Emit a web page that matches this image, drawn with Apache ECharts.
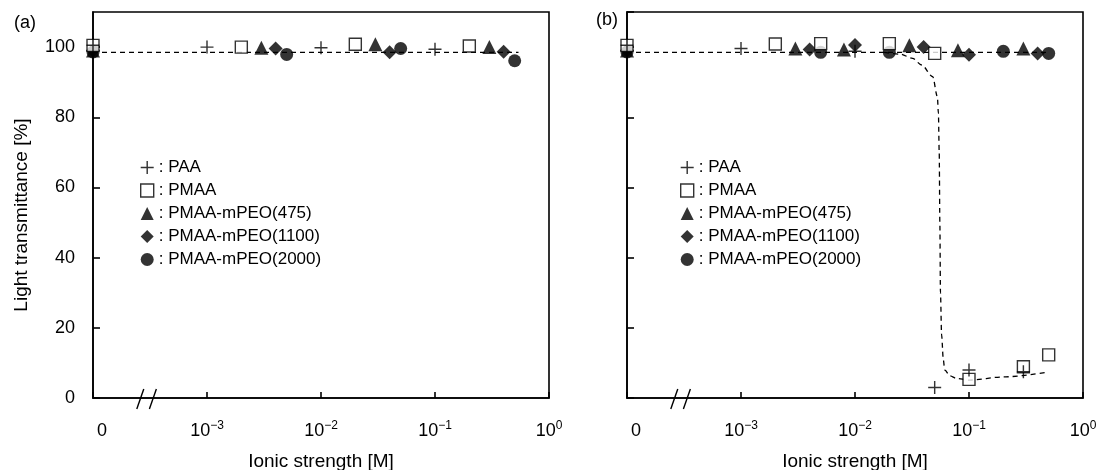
<!DOCTYPE html>
<html>
<head>
<meta charset="utf-8">
<script src="https://cdn.jsdelivr.net/npm/echarts@6/dist/echarts.min.js"></script>
<style>html,body{margin:0;padding:0;background:#fff;}#c{width:1099px;height:470px;}</style>
</head>
<body>
<div id="c"></div>
<script>
// ---- data: [ionic strength (M), light transmittance (%)] ; 0 = no salt ----
const seriesNames = ['PAA', 'PMAA', 'PMAA-mPEO(475)', 'PMAA-mPEO(1100)', 'PMAA-mPEO(2000)'];
const xTicks = [-4, -3, -2, -1, 0];           // log10 positions, -4 stands for "0"
const yTicks = [0, 20, 40, 60, 80, 100];

// panel (a)
const a_PAA  = [[0, 100.5], [0.001, 100.0], [0.01, 99.8], [0.1, 99.4]];
const a_PMAA = [[0, 100.5], [0.002, 100.0], [0.02, 100.8], [0.2, 100.3]];
const a_475  = [[0, 99.0], [0.003, 99.8], [0.03, 100.8], [0.3, 100.0]];
const a_1100 = [[0, 99.0], [0.004, 99.6], [0.04, 98.5], [0.4, 98.7]];
const a_2000 = [[0, 98.6], [0.005, 97.9], [0.05, 99.6], [0.5, 96.1]];
const a_fit  = [[0, 98.5], [0.54, 98.5]];

// panel (b)
const b_PAA  = [[0, 100.5], [0.001, 99.6], [0.01, 98.8], [0.05, 3.0], [0.1, 8.0], [0.3, 7.5]];
const b_PMAA = [[0, 100.5], [0.002, 100.9], [0.005, 101.0], [0.02, 101.0], [0.05, 98.2], [0.1, 5.3], [0.3, 8.9], [0.5, 12.3]];
const b_475  = [[0, 99.0], [0.003, 99.6], [0.008, 99.3], [0.03, 100.5], [0.08, 99.1], [0.3, 99.6]];
const b_1100 = [[0, 99.0], [0.004, 99.3], [0.01, 100.6], [0.04, 100.0], [0.1, 97.8], [0.4, 98.2]];
const b_2000 = [[0, 98.6], [0.005, 98.5], [0.02, 98.5], [0.2, 98.8], [0.5, 98.2]];
const b_fitFlat = [[0, 98.5], [0.51, 98.5]];
const b_fitDrop = [[0.018, 98.5], [0.025, 98.0], [0.032, 96.8], [0.0384, 94.9], [0.048, 91.6], [0.0528, 85.9],
                   [0.0539, 81.2], [0.0548, 70], [0.0555, 50], [0.0562, 30], [0.0575, 18], [0.0595, 11],
                   [0.0612, 8.0], [0.068, 6.3], [0.0776, 5.6], [0.1, 5.1], [0.2, 6.0], [0.479, 7.3]];

// ---- helpers ----
const FONT = "'Liberation Sans', Arial, sans-serif";
const lx = v => (v === 0 ? -4 : Math.log10(v));
const toXY = arr => arr.map(p => [lx(p[0]), p[1]]);
const PLUS = 'path://M4.45,0h1.1v4.45h4.45v1.1h-4.45v4.45h-1.1v-4.45h-4.45v-1.1h4.45z';

const symbols = {
  'PAA': {symbol: PLUS, size: 13, style: {color: '#000'}, z: 7},
  'PMAA': {symbol: 'rect', size: 12, style: {color: '#fff', borderColor: '#000', borderWidth: 1.4}, z: 6},
  'PMAA-mPEO(475)': {symbol: 'triangle', size: 14, style: {color: '#000'}, z: 5},
  'PMAA-mPEO(1100)': {symbol: 'diamond', size: 14, style: {color: '#000'}, z: 4},
  'PMAA-mPEO(2000)': {symbol: 'circle', size: 13, style: {color: '#000'}, z: 3}
};

function scatter(name, data, gi) {
  const s = symbols[name];
  return {
    name, type: 'scatter', xAxisIndex: gi, yAxisIndex: gi, data: toXY(data),
    symbol: s.symbol, symbolSize: s.size, itemStyle: s.style, z: s.z, silent: true
  };
}
function fitLine(name, data, gi, smooth) {
  return {
    name, type: 'line', xAxisIndex: gi, yAxisIndex: gi, data: toXY(data),
    showSymbol: false, symbol: 'none', smooth: smooth || false, smoothMonotone: 'x',
    lineStyle: {color: '#000', width: 1.3, type: [5, 4]}, z: 1, silent: true
  };
}

const xLabel = v => {
  if (Math.abs(v + 4) < 1e-9) return '{z|0}';
  const e = Math.round(v);
  return '{b|10}{s|' + (e < 0 ? '\u2212' + (-e) : '' + e) + '}';
};
const rich = {
  b: {fontSize: 18, fontFamily: FONT, color: '#000', lineHeight: 22},
  z: {fontSize: 18, fontFamily: FONT, color: '#000', lineHeight: 22, padding: [0, 0, 0, 4]},
  s: {fontSize: 12, fontFamily: FONT, color: '#000', verticalAlign: 'top', lineHeight: 12}
};

function xAxis(gi) {
  return {
    gridIndex: gi, type: 'value', min: xTicks[0], max: xTicks[xTicks.length - 1], interval: 1,
    axisLine: {onZero: false, lineStyle: {color: '#000', width: 1.6}},
    axisTick: {inside: true, length: 6, lineStyle: {color: '#000', width: 1.6}},
    splitLine: {show: false},
    axisLabel: {margin: 22, formatter: xLabel, rich, alignMinLabel: 'left'},
    name: 'Ionic strength [M]', nameLocation: 'middle', nameGap: 54,
    nameTextStyle: {fontSize: 19, color: '#000', fontFamily: FONT}
  };
}
function yAxis(gi) {
  return {
    gridIndex: gi, type: 'value', min: yTicks[0], max: 110, interval: 20, position: 'left',
    axisLine: {onZero: false, lineStyle: {color: '#000', width: 1.6}},
    axisTick: {inside: true, length: 7, lineStyle: {color: '#000', width: 1.6}},
    splitLine: {show: false},
    axisLabel: {show: gi === 0, margin: 18, fontSize: 18, color: '#000', fontFamily: FONT, showMaxLabel: false},
    name: gi === 0 ? 'Light transmittance [%]' : '', nameLocation: 'middle', nameGap: 62,
    nameTextStyle: {fontSize: 19, color: '#000', fontFamily: FONT, padding: [0, 20, 0, 0]}
  };
}
function legend(left) {
  return {
    left, top: 154, orient: 'vertical', itemWidth: 13, itemHeight: 13, itemGap: 6,
    selectedMode: false, formatter: n => ': ' + n,
    textStyle: {fontSize: 17, color: '#000', fontFamily: FONT},
    data: seriesNames.map(n => ({name: n, icon: symbols[n].symbol, itemStyle: symbols[n].style}))
  };
}

const chart = echarts.init(document.getElementById('c'), null, {renderer: 'canvas'});
const gridCommon = {top: 12, height: 386, width: 456, show: true, borderColor: '#000', borderWidth: 1.6,
                    containLabel: false, outerBoundsMode: 'none'};
const option = {
  animation: false,
  backgroundColor: '#fff',
  grid: [Object.assign({left: 93}, gridCommon), Object.assign({left: 627}, gridCommon)],
  xAxis: [xAxis(0), xAxis(1)],
  yAxis: [yAxis(0), yAxis(1)],
  legend: [legend(135), legend(675)],
  series: [
    fitLine('fitA', a_fit, 0),
    scatter('PMAA-mPEO(2000)', a_2000, 0),
    scatter('PMAA-mPEO(1100)', a_1100, 0),
    scatter('PMAA-mPEO(475)', a_475, 0),
    scatter('PMAA', a_PMAA, 0),
    scatter('PAA', a_PAA, 0),
    fitLine('fitB1', b_fitFlat, 1),
    fitLine('fitB2', b_fitDrop, 1, 0.3),
    scatter('PMAA-mPEO(2000)', b_2000, 1),
    scatter('PMAA-mPEO(1100)', b_1100, 1),
    scatter('PMAA-mPEO(475)', b_475, 1),
    scatter('PMAA', b_PMAA, 1),
    scatter('PAA', b_PAA, 1)
  ]
};
chart.setOption(option);

// axis break marks and panel labels
const breaks = [0, 1].map(gi => chart.convertToPixel({gridIndex: gi}, [-3.53, 0]));
const gfx = [
  {type: 'text', left: 14, top: 14, style: {text: '(a)', fontSize: 18, fontFamily: FONT, fill: '#000'}},
  {type: 'text', left: 596, top: 11, style: {text: '(b)', fontSize: 18, fontFamily: FONT, fill: '#000'}}
];
breaks.forEach(p => {
  [-6.3, 6.3].forEach(d => {
    gfx.push({type: 'line', shape: {x1: p[0] + d - 3.5, y1: p[1] + 11, x2: p[0] + d + 3.5, y2: p[1] - 9},
              style: {stroke: '#000', lineWidth: 1.4}, z: 10});
  });
});
chart.setOption({graphic: gfx});
</script>
</body>
</html>
